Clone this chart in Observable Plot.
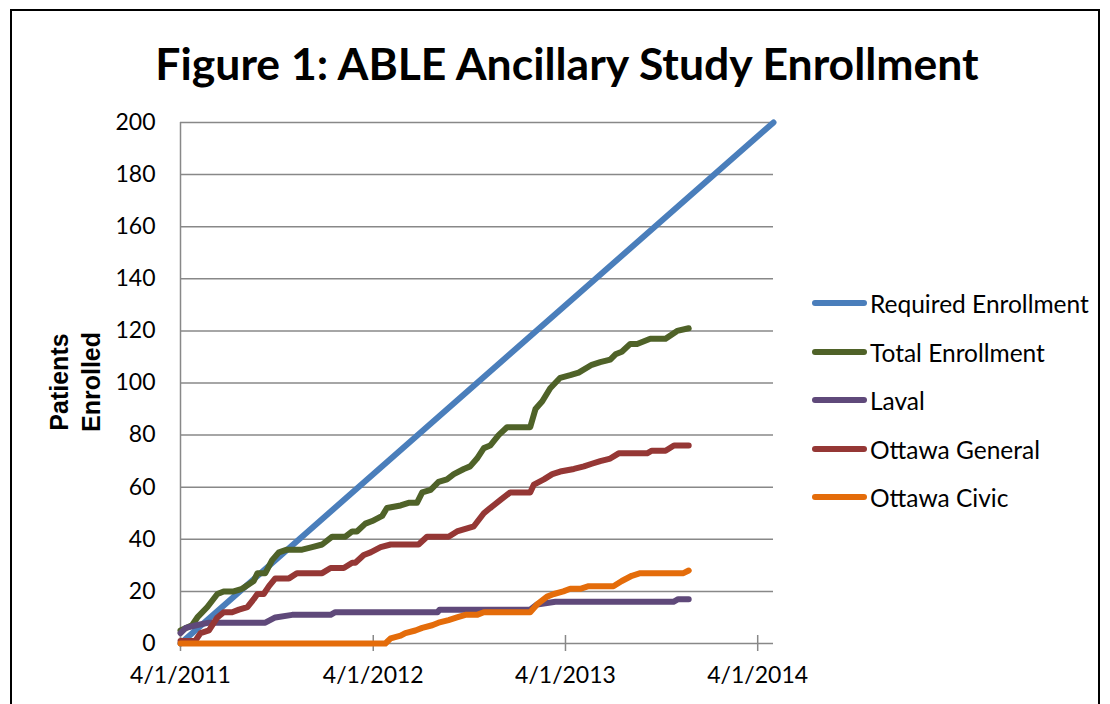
<!DOCTYPE html>
<html>
<head>
<meta charset="utf-8">
<script src="https://cdn.jsdelivr.net/npm/d3@7"></script>
<script src="https://cdn.jsdelivr.net/npm/@observablehq/plot@0.6"></script>
<style>
  body { margin: 0; background: #fff; }
  #wrap { position: relative; width: 1110px; height: 704px; overflow: hidden; font-family: Lato, "Open Sans", sans-serif; color: #000; }
  #frame { position: absolute; left: 10px; top: 9px; width: 1086px; height: 800px; border: 2px solid #000; pointer-events: none; }
  #title { position: absolute; left: 0; width: 1134px; top: 33px; text-align: center; font-weight: bold; font-size: 44.5px; line-height: 60px; white-space: nowrap; }
  #ylabel { position: absolute; left: 75px; top: 382px; transform: translate(-50%, -50%) rotate(-90deg); font-family: "Liberation Sans", Arial, sans-serif; font-weight: bold; font-size: 25px; line-height: 32px; text-align: center; white-space: pre; }
  #chart { position: absolute; left: 0; top: 0; }
  .leg { position: absolute; left: 812px; height: 30px; display: flex; align-items: center; font-size: 24.5px; white-space: nowrap; }
  .leg .sw { width: 55px; height: 6px; border-radius: 3px; margin-right: 3px; }
</style>
</head>
<body>
<div id="wrap">
  <div id="chart"></div>
  <div id="title"></div>
  <div id="ylabel"></div>
  <div id="legend"></div>
  <div id="frame"></div>
</div>
<script>
// ---- data (x = days since 4/1/2011) ----
const titleText = "Figure 1: ABLE Ancillary Study Enrollment";
const yTitle = "Patients\nEnrolled";
const startDate = "2011-04-01";
const endDate = "2014-05-01";
const seriesNames = ["Required Enrollment", "Total Enrollment", "Laval", "Ottawa General", "Ottawa Civic"];
const seriesColors = ["#4A7EBB", "#4F6228", "#5F497A", "#953735", "#E46C0A"];
const xTickLabels = ["2011-04-01", "2012-04-01", "2013-04-01", "2014-04-01"];
const yTickValues = [0, 20, 40, 60, 80, 100, 120, 140, 160, 180, 200];

const requiredDays = [0, 1126];
const requiredValues = [0, 200];

const totalDays = [0, 22, 32, 51, 70, 82, 101, 117, 139, 146, 161, 174, 187, 202, 215, 231, 250, 269, 288, 313, 326, 335, 351, 364, 383, 392, 418, 433, 449, 459, 475, 490, 506, 519, 538, 550, 563, 576, 588, 604, 620, 633, 664, 674, 687, 702, 721, 740, 756, 781, 797, 816, 826, 838, 854, 867, 892, 921, 943, 965];
const totalValues = [5, 7, 10, 14, 19, 20, 20, 21, 24, 27, 27, 32, 35, 36, 36, 36, 37, 38, 41, 41, 43, 43, 46, 47, 49, 52, 53, 54, 54, 58, 59, 62, 63, 65, 67, 68, 71, 75, 76, 80, 83, 83, 83, 90, 93, 98, 102, 103, 104, 107, 108, 109, 111, 112, 115, 115, 117, 117, 120, 121];

const lavalDays = [0, 10, 30, 54, 161, 180, 212, 285, 294, 488, 492, 664, 677, 712, 936, 945, 965];
const lavalValues = [4, 6, 7, 8, 8, 10, 11, 11, 12, 12, 13, 13, 15, 16, 16, 17, 17];

const generalDays = [0, 28, 38, 54, 70, 82, 98, 111, 127, 139, 146, 158, 168, 180, 206, 221, 240, 269, 285, 310, 326, 332, 348, 361, 380, 399, 452, 468, 509, 525, 541, 557, 576, 588, 607, 626, 664, 671, 690, 706, 721, 747, 766, 781, 797, 816, 832, 886, 895, 921, 937, 965];
const generalValues = [1, 1, 4, 5, 10, 12, 12, 13, 14, 17, 19, 19, 22, 25, 25, 27, 27, 27, 29, 29, 31, 31, 34, 35, 37, 38, 38, 41, 41, 43, 44, 45, 50, 52, 55, 58, 58, 61, 63, 65, 66, 67, 68, 69, 70, 71, 73, 73, 74, 74, 76, 76];

const civicDays = [0, 389, 399, 418, 427, 446, 459, 478, 490, 509, 525, 541, 563, 576, 595, 664, 677, 696, 709, 727, 740, 759, 775, 822, 838, 857, 873, 883, 955, 965];
const civicValues = [0, 0, 2, 3, 4, 5, 6, 7, 8, 9, 10, 11, 11, 12, 12, 12, 15, 18, 19, 20, 21, 21, 22, 22, 24, 26, 27, 27, 27, 28];

// ---- build table ----
const t0 = new Date(startDate);
const seriesData = [
  [requiredDays, requiredValues],
  [totalDays, totalValues],
  [lavalDays, lavalValues],
  [generalDays, generalValues],
  [civicDays, civicValues]
];
const rows = [];
seriesData.forEach(([days, vals], k) => {
  days.forEach((d, i) => rows.push({series: seriesNames[k], date: d3.utcDay.offset(t0, d), value: vals[i]}));
});
const xTicks = xTickLabels.map(s => new Date(s));
const fmt = d3.utcFormat("%-m/%-d/%Y");
const gray = "#888888";

const chart = Plot.plot({
  width: 1110,
  height: 704,
  marginLeft: 180,
  marginRight: 337,
  marginTop: 122,
  marginBottom: 61,
  style: {fontFamily: "Lato, 'Open Sans', sans-serif", fontSize: "23px", color: "#000", background: "transparent", overflow: "visible"},
  x: {type: "utc", domain: [t0, new Date(endDate)]},
  y: {domain: [0, 200]},
  color: {domain: seriesNames, range: seriesColors},
  marks: [
    Plot.gridY(yTickValues.filter(v => v > 0), {stroke: gray, strokeOpacity: 1, strokeWidth: 1.5}),
    Plot.ruleY([0], {stroke: gray, strokeWidth: 1.5}),
    Plot.ruleX([t0], {stroke: gray, strokeWidth: 1.5}),
    Plot.axisX({ticks: xTicks, tickSize: 16, dy: -8, tickFormat: () => "", label: null, stroke: gray, strokeWidth: 1.5}),
    Plot.axisX({ticks: xTicks, tickSize: 0, tickPadding: 23, tickFormat: fmt, label: null, fontSize: 23}),
    Plot.axisY({ticks: yTickValues, tickSize: 0, tickPadding: 25, label: null, fontSize: 23}),
    Plot.line(rows, {x: "date", y: "value", z: "series", stroke: "series", strokeWidth: 6, strokeLinecap: "round", strokeLinejoin: "round"})
  ]
});
document.getElementById("chart").appendChild(chart);

document.getElementById("title").textContent = titleText;
document.getElementById("ylabel").textContent = yTitle;

const legendRowY = [303, 352, 400, 449, 497];
const legend = document.getElementById("legend");
seriesNames.forEach((name, i) => {
  const row = document.createElement("div");
  row.className = "leg";
  row.style.top = (legendRowY[i] - 15) + "px";
  const sw = document.createElement("div");
  sw.className = "sw";
  sw.style.background = seriesColors[i];
  const tx = document.createElement("span");
  tx.textContent = name;
  row.appendChild(sw);
  row.appendChild(tx);
  legend.appendChild(row);
});
</script>
</body>
</html>
